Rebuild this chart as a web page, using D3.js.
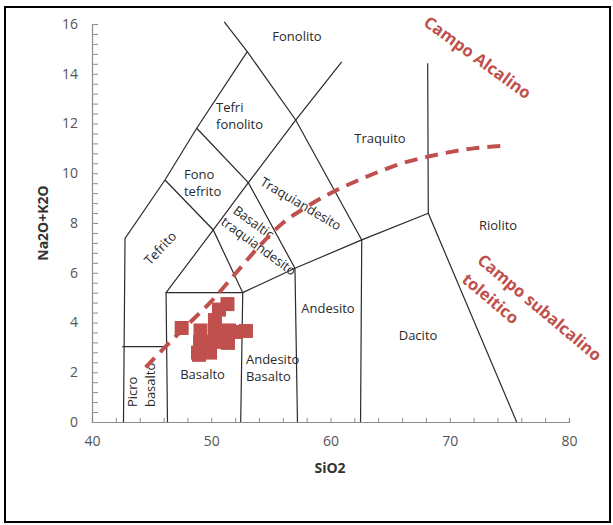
<!DOCTYPE html>
<html>
<head>
<meta charset="utf-8">
<script src="https://cdn.jsdelivr.net/npm/d3@7"></script>
<style>
  html, body { margin: 0; padding: 0; background: #fff; }
  svg { display: block; }
</style>
</head>
<body>
<svg id="chart" width="613" height="525"></svg>
<script>
// Axis ticks
const xTicks = [40, 50, 60, 70, 80];
const yTicks = [0, 2, 4, 6, 8, 10, 12, 14, 16];

// Sample analyses (SiO2 wt%, Na2O+K2O wt%)
const sampleSiO2 = [47.52, 51.36, 50.65, 50.31, 49.10, 50.31, 51.49, 52.08, 52.91, 49.06, 50.23, 51.40, 48.89, 49.90, 48.97, 51.15];
const sampleAlk  = [3.78, 4.74, 4.52, 4.10, 3.68, 3.68, 3.68, 3.62, 3.66, 3.22, 3.22, 3.18, 2.79, 2.79, 2.70, 3.40];

// Alkaline / subalkaline dividing curve
const divSiO2 = [44.5, 46.0, 48.0, 50.0, 52.0, 54.0, 56.0, 58.0, 60.0, 62.0, 64.0, 66.0, 68.0, 70.0, 72.0, 74.5];
const divAlk  = [2.2, 2.95, 3.9, 4.85, 5.95, 7.05, 8.0, 8.65, 9.2, 9.65, 10.05, 10.4, 10.65, 10.85, 11.0, 11.1];

// TAS field boundaries, each as [SiO2, Na2O+K2O] vertices
const fieldBoundaries = [
  [[42.64, 0], [42.77, 7.38], [46.12, 9.73], [48.78, 11.81], [53.02, 14.89]],
  [[51.09, 16.09], [53.02, 14.89], [57.08, 12.14], [62.62, 7.32]],
  [[46.21, 5.20], [50.17, 7.72], [53.11, 9.62], [57.08, 12.14], [60.94, 14.48]],
  [[48.78, 11.81], [53.11, 9.62], [57.02, 6.18]],
  [[46.12, 9.73], [50.17, 7.72], [52.64, 5.20]],
  [[46.33, 0], [46.21, 5.20], [52.64, 5.20], [52.47, 0]],
  [[42.54, 3.03], [46.21, 3.03]],
  [[52.64, 5.20], [57.02, 6.18], [62.62, 7.32], [68.20, 8.39]],
  [[57.02, 6.18], [57.23, 0]],
  [[62.62, 7.32], [62.52, 0]],
  [[68.15, 14.42], [68.20, 8.39], [75.61, 0]]
];

// Rock field names: lines of text, anchor point, rotation, anchor mode
const fieldNames = [
  { lines: ["Fonolito"], x: 57.19, y: 15.52, rot: 0, anchor: "middle" },
  { lines: ["Tefri", "fonolito"], x: 50.40, y: 12.65, rot: 0, anchor: "start" },
  { lines: ["Fono", "tefrito"], x: 47.71, y: 9.96, rot: 0, anchor: "start" },
  { lines: ["Tefrito"], x: 45.70, y: 7.0, rot: -47, anchor: "middle" },
  { lines: ["Basaltic"], x: 53.58, y: 8.04, rot: 36, anchor: "middle" },
  { lines: ["traquiandesito"], x: 54.0, y: 7.08, rot: 36, anchor: "middle" },
  { lines: ["Traquiandesito"], x: 57.53, y: 8.79, rot: 30.5, anchor: "middle" },
  { lines: ["Traquito"], x: 64.15, y: 11.42, rot: 0, anchor: "middle" },
  { lines: ["Riolito"], x: 74.05, y: 7.92, rot: 0, anchor: "middle" },
  { lines: ["Andesito"], x: 59.79, y: 4.58, rot: 0, anchor: "middle" },
  { lines: ["Dacito"], x: 67.34, y: 3.50, rot: 0, anchor: "middle" },
  { lines: ["Andesito", "Basalto"], x: 52.91, y: 2.53, rot: 0, anchor: "start" },
  { lines: ["Basalto"], x: 49.27, y: 1.92, rot: 0, anchor: "middle" },
  { lines: ["Picro"], x: 43.33, y: 0.60, rot: -90, anchor: "start" },
  { lines: ["basalto"], x: 44.86, y: 0.60, rot: -90, anchor: "start" }
];

// Series field annotations
const seriesNames = [
  { text: "Campo Alcalino", x: 72.37, y: 14.67, rot: 36 },
  { text: "Campo subalcalino", x: 77.57, y: 4.62, rot: 40 },
  { text: "toleitico", x: 73.46, y: 4.98, rot: 40 }
];

const svg = d3.select("#chart");
const red = "#c0504d";

// Outer frame
svg.append("rect")
  .attr("x", 5).attr("y", 7).attr("width", 605).attr("height", 515)
  .attr("fill", "none").attr("stroke", "#000").attr("stroke-width", 2);

const x = d3.scaleLinear().domain([40, 80]).range([92, 569]);
const y = d3.scaleLinear().domain([0, 16]).range([422, 24]);

// Axes
const xAxis = d3.axisBottom(x).tickValues(d3.range(40, 80.1, 2)).tickSize(-4)
  .tickFormat(d => xTicks.includes(d) ? d : "");
const yAxis = d3.axisLeft(y).tickValues(d3.range(0, 16.01, 0.4)).tickSize(-6)
  .tickFormat(d => {
    const r = Math.round(d * 10) / 10;
    return yTicks.includes(r) ? r : "";
  });

const gx = svg.append("g").attr("transform", "translate(0,422)").call(xAxis);
const gy = svg.append("g").attr("transform", "translate(92,0)").call(yAxis);
[gx, gy].forEach(g => {
  g.select(".domain").attr("stroke", "#8c8c8c").attr("stroke-width", 1.2);
  g.selectAll(".tick line").attr("stroke", "#8c8c8c");
  g.selectAll(".tick text")
    .attr("fill", "#555")
    .style("font-family", "'Open Sans', sans-serif")
    .style("font-size", "14px");
});
gx.selectAll(".tick text").attr("y", 14);
gy.selectAll(".tick text").attr("x", -14);

// Axis titles
svg.append("text")
  .attr("x", 330).attr("y", 473)
  .attr("text-anchor", "middle")
  .style("font-family", "'Open Sans', sans-serif")
  .style("font-size", "14px").style("font-weight", "bold")
  .attr("fill", "#333")
  .text("SiO2");
svg.append("text")
  .attr("transform", "translate(48,223) rotate(-90)")
  .attr("text-anchor", "middle")
  .style("font-family", "'Open Sans', sans-serif")
  .style("font-size", "14px").style("font-weight", "bold")
  .attr("fill", "#333")
  .text("Na2O+K2O");

// Field boundaries
const line = d3.line().x(d => x(d[0])).y(d => y(d[1]));
svg.append("g").selectAll("path")
  .data(fieldBoundaries)
  .join("path")
  .attr("d", line)
  .attr("fill", "none")
  .attr("stroke", "#2a2a2a")
  .attr("stroke-width", 1.2);

// Field names
const nameG = svg.append("g")
  .style("font-family", "'Open Sans', sans-serif")
  .style("font-size", "13px")
  .attr("fill", "#2a2a2a");
fieldNames.forEach(f => {
  const t = nameG.append("text")
    .attr("transform", `translate(${x(f.x)},${y(f.y)}) rotate(${f.rot})`)
    .attr("text-anchor", f.anchor)
    .attr("dominant-baseline", "central");
  f.lines.forEach((s, i) => {
    t.append("tspan").attr("x", 0).attr("dy", i === 0 ? 0 : 17).text(s);
  });
});

// Samples
const side = 14;
svg.append("g").selectAll("rect")
  .data(sampleSiO2.map((s, i) => [s, sampleAlk[i]]))
  .join("rect")
  .attr("x", d => x(d[0]) - side / 2)
  .attr("y", d => y(d[1]) - side / 2)
  .attr("width", side).attr("height", side)
  .attr("fill", red);

// Alkaline / subalkaline divide
svg.append("path")
  .datum(divSiO2.map((s, i) => [s, divAlk[i]]))
  .attr("d", d3.line().x(d => x(d[0])).y(d => y(d[1])).curve(d3.curveMonotoneX))
  .attr("fill", "none")
  .attr("stroke", red)
  .attr("stroke-width", 4)
  .attr("stroke-dasharray", "13 8");

// Series annotations
svg.append("g").selectAll("text")
  .data(seriesNames)
  .join("text")
  .attr("transform", d => `translate(${x(d.x)},${y(d.y)}) rotate(${d.rot})`)
  .attr("text-anchor", "middle")
  .attr("dominant-baseline", "central")
  .style("font-family", "'Open Sans', sans-serif")
  .style("font-size", "16.5px").style("font-weight", "bold")
  .attr("fill", red)
  .text(d => d.text);
</script>
</body>
</html>
